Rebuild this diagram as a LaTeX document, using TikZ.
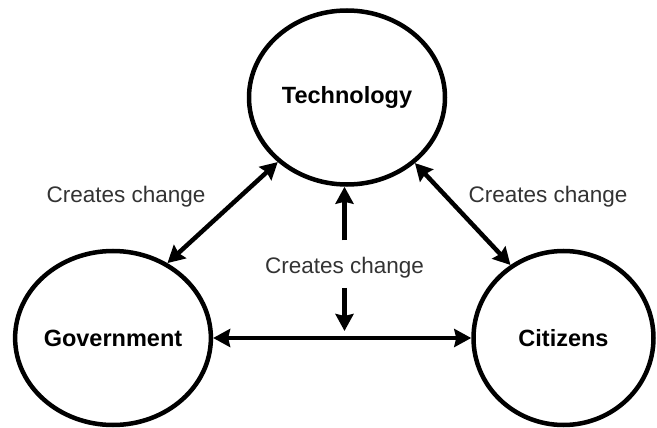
\documentclass[tikz,border=0pt]{standalone}
\usepackage{fontspec}
\setmainfont{Liberation Sans}
\usetikzlibrary{shapes.geometric,arrows.meta}

\begin{document}
\begin{tikzpicture}
[x=1pt,y=-1pt,
 nodedecorate/.style={shape=ellipse,draw,line width=4.5pt,inner sep=0pt,
   minimum height=174pt,font=\fontsize{23.5}{28}\selectfont\bfseries},%
 arrowdecorate/.style={>={Stealth[length=17pt,width=18pt,inset=2pt]},line width=4.5pt},%
 labeldecorate/.style={anchor=base,inner sep=0pt,text=black!80,
   font=\fontsize{22.5}{27}\selectfont}]
\useasboundingbox (0,0) rectangle (657,428);
%% nodes or vertices
\foreach \nodename/\x/\y/\w/\nodetext in {tech/347/97.5/196/Technology,
  gov/113/338/190/Government, cit/563.5/338/180/Citizens} {
  \node (\nodename) at (\x,\y) [nodedecorate,minimum width=\w pt] {\nodetext};
}
%% labels
\node (lefttext) at (126,202) [labeldecorate] {Creates change};
\node (righttext) at (548,202) [labeldecorate] {Creates change};
\node (midtext) at (344.5,273) [labeldecorate] {Creates change};
\coordinate (midbase) at (midtext.south |- gov.east);
%% edges or lines
\path
\foreach \startnode/\endnode in {gov.54/tech.223, tech.316/cit.126, gov.east/cit.west} {
  (\startnode) edge[arrowdecorate,<->] (\endnode)
};
\draw[arrowdecorate,->,shorten <=16pt] (midtext.north) -- (midtext.north |- tech.south);
\draw[arrowdecorate,->,shorten <=10pt,shorten >=7pt] (midtext.south) -- (midbase);
\end{tikzpicture}
\end{document}
